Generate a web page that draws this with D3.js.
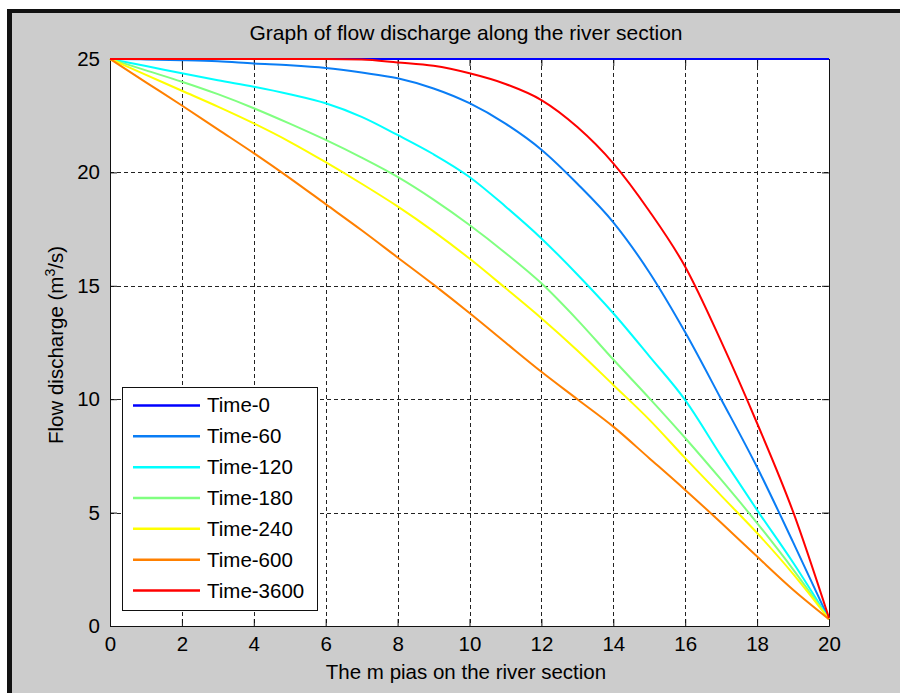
<!DOCTYPE html>
<html>
<head>
<meta charset="utf-8">
<script src="https://cdn.jsdelivr.net/npm/d3@7"></script>
<style>
  body { margin: 0; background: white; }
  text { font-family: "Liberation Sans", Arial, sans-serif; fill: #000; }
</style>
</head>
<body>
<script>
// positions along the river section
const positions = [0,1,2,3,4,5,6,7,8,9,10,11,12,13,14,15,16,17,18,19,20]

// discharge for every time step (m3/s)
const time0    = [25,25,25,25,25,25,25,25,25,25,25,25,25,25,25,25,25,25,25,25,25]
const time60   = [25,24.98,24.95,24.9,24.8,24.72,24.6,24.4,24.15,23.7,23.05,22.15,21.0,19.5,17.8,15.6,12.95,10.0,7.0,3.7,0.3]
const time120  = [25,24.69,24.37,24.06,23.78,23.45,23.05,22.45,21.65,20.8,19.8,18.5,17.09,15.5,13.79,11.9,9.96,7.5,5.11,2.8,0.3]
const time180  = [25,24.5,24.0,23.45,22.83,22.15,21.43,20.65,19.8,18.8,17.68,16.45,15.11,13.5,11.75,10.05,8.29,6.45,4.54,2.5,0.3]
const time240  = [25,24.3,23.6,22.9,22.16,21.35,20.45,19.5,18.5,17.4,16.2,14.9,13.57,12.15,10.63,9.1,7.4,5.75,4.1,2.3,0.3]
const time600  = [25,23.97,22.95,21.9,20.85,19.75,18.6,17.45,16.25,15.05,13.8,12.5,11.21,10.0,8.79,7.4,6.0,4.55,3.06,1.6,0.3]
const time3600 = [25,25,25,25,25,25,25,24.98,24.85,24.7,24.37,23.9,23.19,22.0,20.4,18.3,15.84,12.55,8.94,5.04,0.35]

const seriesNames = ["Time-0","Time-60","Time-120","Time-180","Time-240","Time-600","Time-3600"]
const seriesValues = [time0, time60, time120, time180, time240, time600, time3600]
const seriesColors = ["#0000ff","#0a7df5","#00ffff","#80ff80","#ffff00","#ff8000","#ff0000"]

const xTicks = [0,2,4,6,8,10,12,14,16,18,20]
const yTicks = [0,5,10,15,20,25]

const [width, height] = [900, 693]
const plot = {left: 110, right: 829, top: 59, bottom: 626}
const fontSize = "20.5px"

const svg = d3.select("body").append("svg")
    .attr("width", width)
    .attr("height", height)

// figure background with the black frame top/left
svg.append("rect").attr("x", 0).attr("y", 0).attr("width", width).attr("height", height).attr("fill", "white")
svg.append("rect").attr("x", 7).attr("y", 9).attr("width", width).attr("height", height).attr("fill", "#111")
svg.append("rect").attr("x", 12).attr("y", 13).attr("width", width).attr("height", height).attr("fill", "#cccccc")

const x = d3.scaleLinear().domain([0, 20]).range([plot.left, plot.right])
const y = d3.scaleLinear().domain([0, 25]).range([plot.bottom, plot.top])

svg.append("rect")
    .attr("x", plot.left).attr("y", plot.top)
    .attr("width", plot.right - plot.left).attr("height", plot.bottom - plot.top)
    .attr("fill", "white")

// grid
const grid = svg.append("g").attr("stroke", "#222").attr("stroke-width", 1).attr("stroke-dasharray", "4,3")
grid.selectAll("line.v").data(xTicks.slice(1, -1)).enter().append("line")
    .attr("x1", d => Math.round(x(d)) + 0.5).attr("x2", d => Math.round(x(d)) + 0.5)
    .attr("y1", plot.top).attr("y2", plot.bottom)
grid.selectAll("line.h").data(yTicks.slice(1, -1)).enter().append("line")
    .attr("y1", d => Math.round(y(d)) + 0.5).attr("y2", d => Math.round(y(d)) + 0.5)
    .attr("x1", plot.left).attr("x2", plot.right)

// axes (ticks inside, like matlab)
const tick = 7
const styleAxis = g => {
    g.select(".domain").attr("stroke", "#111")
    g.selectAll(".tick line").attr("stroke", "#111")
    g.selectAll(".tick text").attr("font-size", fontSize).attr("fill", "#000")
        .attr("font-family", '"Liberation Sans", Arial, sans-serif')
}
svg.append("g").attr("transform", `translate(0,${plot.bottom})`)
    .call(d3.axisBottom(x).tickValues(xTicks).tickSizeInner(-tick).tickSizeOuter(0).tickPadding(10))
    .call(styleAxis)
svg.append("g").attr("transform", `translate(0,${plot.top})`)
    .call(d3.axisTop(x).tickValues(xTicks).tickSizeInner(-tick).tickSizeOuter(0).tickFormat(""))
    .call(styleAxis)
svg.append("g").attr("transform", `translate(${plot.left},0)`)
    .call(d3.axisLeft(y).tickValues(yTicks).tickSizeInner(-tick).tickSizeOuter(0).tickPadding(10))
    .call(styleAxis)
svg.append("g").attr("transform", `translate(${plot.right},0)`)
    .call(d3.axisRight(y).tickValues(yTicks).tickSizeInner(-tick).tickSizeOuter(0).tickFormat(""))
    .call(styleAxis)

// curves
const line = d3.line()
    .x((d, i) => x(positions[i]))
    .y(d => y(d))
    .curve(d3.curveMonotoneX)

svg.append("g").selectAll("path")
    .data(seriesValues)
    .enter()
    .append("path")
        .attr("d", d => line(d))
        .attr("fill", "none")
        .attr("stroke", (d, i) => seriesColors[i])
        .attr("stroke-width", 2)

// titles
svg.append("text")
    .attr("x", 466).attr("y", 40)
    .attr("text-anchor", "middle").attr("font-size", "21px")
    .text("Graph of flow discharge along the river section")

svg.append("text")
    .attr("x", 466).attr("y", 679)
    .attr("text-anchor", "middle").attr("font-size", fontSize)
    .text("The m pias on the river section")

const ylab = svg.append("text")
    .attr("transform", "translate(63,345) rotate(-90)")
    .attr("text-anchor", "middle").attr("font-size", fontSize)
ylab.append("tspan").text("Flow discharge (m")
ylab.append("tspan").attr("font-size", "14px").attr("dy", -8).text("3")
ylab.append("tspan").attr("dy", 8).text("/s)")

// legend
const legend = svg.append("g")
legend.append("rect")
    .attr("x", 122.5).attr("y", 387.5).attr("width", 195).attr("height", 223)
    .attr("fill", "white").attr("stroke", "#111")
const rowY = d3.scaleBand().domain(seriesNames).range([390, 606])
const rows = legend.selectAll("g.row").data(seriesNames).enter().append("g")
    .attr("transform", d => `translate(0,${rowY(d) + rowY.bandwidth() / 2})`)
rows.append("line")
    .attr("x1", 133).attr("x2", 200)
    .attr("stroke", (d, i) => seriesColors[i]).attr("stroke-width", 2.5)
rows.append("text")
    .attr("x", 207).attr("y", 7).attr("font-size", fontSize)
    .text(d => d)
</script>
</body>
</html>
